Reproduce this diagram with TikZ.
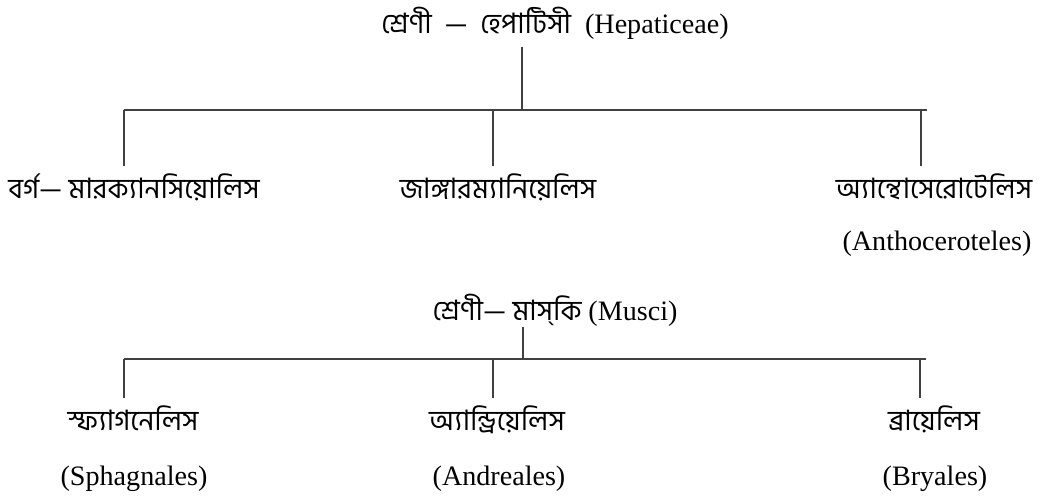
\documentclass[tikz,border=0pt]{standalone}
\usepackage{fontspec}
\setmainfont{Liberation Serif}
\newfontfamily\bn[Script=Bengali]{Hind Siliguri}
\usetikzlibrary{positioning}
\tikzset{taxon/.style = {anchor = base, inner sep = 0, font = \fontsize{16}{19}\selectfont}}
\tikzset{child/.style = {taxon, text height = 12pt, text depth = 4pt, inner ysep = 6pt}}
\tikzset{branch/.style = {line width = 1.1pt, draw = black!75}}

\begin{document}
\begin{tikzpicture}[x=0.02cm,y=-0.02cm]
      \useasboundingbox (0,0) rectangle (1045,498);

      \node[taxon] (hep) at (555,33) {{\bn শ্রেণী\ \ —\ \ হেপাটিসী}\ \ (Hepaticeae)};
      \coordinate (hepfoot) at (522,47);
      \coordinate (hepbar) at (522,110);
      \coordinate (hepL) at (124,110);
      \coordinate (hepM) at (493,110);
      \coordinate (hepR) at (921,110);
      \coordinate (hepend) at (927,110);

      \node[child] (mar) at (134,198) {\bn বর্গ— মারক্যানসিয়োলিস};
      \node[child] (jun) at (498,198) {\bn জাঙ্গারম্যানিয়েলিস};
      \node[child] (ant) at (934,198) {\bn অ্যান্থোসেরোটেলিস};
      \node[taxon] (antlat) at (937,250) {(Anthoceroteles)};

      \draw[branch] (hepfoot) -- (hepbar);
      \draw[branch] (hepL) -- (hepend);
      \draw[branch] (hepL) -- (hepL |- mar.north);
      \draw[branch] (hepM) -- (hepM |- jun.north);
      \draw[branch] (hepR) -- (hepR |- ant.north);

      \node[taxon] (mus) at (555,320) {{\bn শ্রেণী— মাস্‌কি}\ (Musci)};
      \coordinate (musfoot) at (523,327);
      \coordinate (musbar) at (523,359);
      \coordinate (musL) at (124,359);
      \coordinate (musM) at (493,359);
      \coordinate (musR) at (920,359);
      \coordinate (musend) at (926,359);

      \node[child] (sph) at (133,430) {\bn স্ফ্যাগনেলিস};
      \node[child] (and) at (497,430) {\bn অ্যান্ড্রিয়েলিস};
      \node[child] (bry) at (934,430) {\bn ব্রায়েলিস};
      \node[taxon] (sphlat) at (134,485) {(Sphagnales)};
      \node[taxon] (andlat) at (499,485) {(Andreales)};
      \node[taxon] (brylat) at (935,485) {(Bryales)};

      \draw[branch] (musfoot) -- (musbar);
      \draw[branch] (musL) -- (musend);
      \draw[branch] (musL) -- (musL |- sph.north);
      \draw[branch] (musM) -- (musM |- and.north);
      \draw[branch] (musR) -- (musR |- bry.north);
\end{tikzpicture}
\end{document}
